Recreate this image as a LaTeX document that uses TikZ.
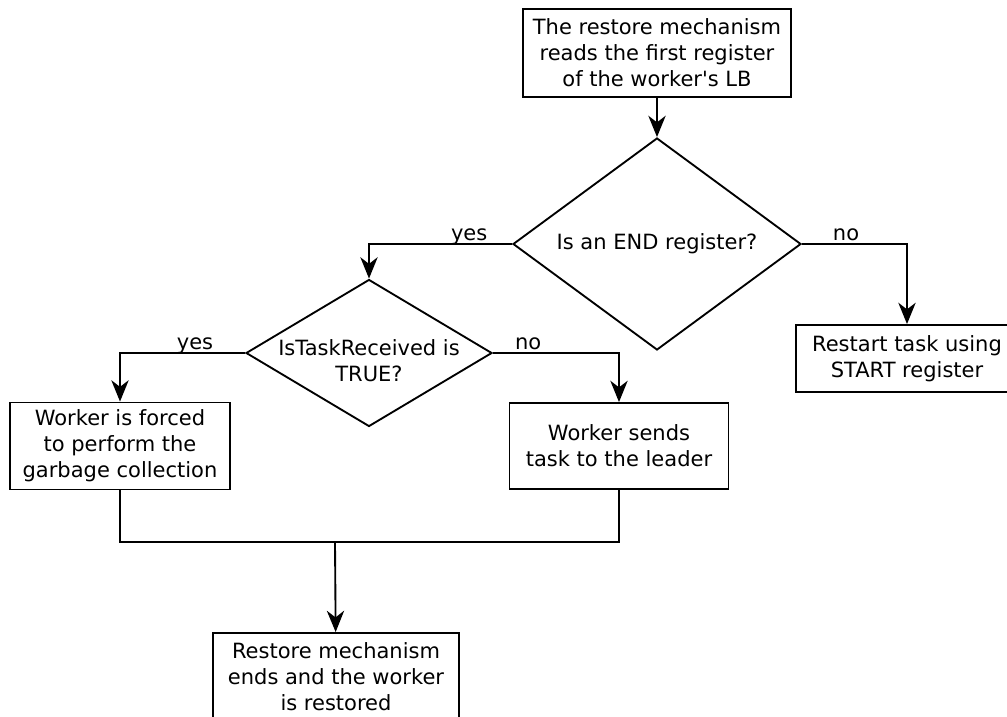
\documentclass[tikz,border=0pt]{standalone}
\usepackage{fontspec}
\setmainfont{DejaVu Sans}
\usetikzlibrary{shapes.geometric,arrows.meta}

\tikzset{every picture/.style={line width=1.4pt},
	procbox/.style={draw, rectangle, inner sep=0pt, align=center},
	decision/.style={draw, diamond, inner xsep=-16pt, inner ysep=-6pt, align=center},
	flow/.style={-{Stealth[length=16pt,width=13pt,inset=5pt]}},
	branch/.style={above, text depth=0pt, inner sep=2pt}
}

\begin{document}
\begin{tikzpicture}[x=0.75pt,y=0.75pt,yscale=-1,xscale=1,font=\fontsize{15.75}{19.5}\selectfont]
	\useasboundingbox (0,0) rectangle (1007,717);
	
	%Shape: Rectangle [id:start] 
	\node [procbox, minimum width=201pt, minimum height=66pt] (start) at (657,53) {The restore mechanism\\reads the first register\\of the worker\textquotesingle s LB};
	%Shape: Diamond [id:endreg] 
	\node [decision, aspect=1.36, minimum width=216pt, minimum height=159pt] (endreg) at (657,244) {Is an END register?};
	%Shape: Diamond [id:received] 
	\node [decision, aspect=1.67, minimum width=184.5pt, minimum height=110.25pt] (received) at (369,353) {\rule{0pt}{23pt}IsTaskReceived is\\TRUE?};
	%Shape: Rectangle [id:restart] 
	\node [procbox, minimum width=166.5pt, minimum height=50.25pt] (restart) at (907,358.5) {Restart task using\\START register};
	%Shape: Rectangle [id:forced] 
	\node [procbox, minimum width=165pt, minimum height=65.25pt] (forced) at (120,446) {Worker is forced\\to perform the\\garbage collection};
	%Shape: Rectangle [id:sends] 
	\node [procbox, minimum width=164.25pt, minimum height=64.5pt] (sends) at (619,446) {Worker sends\\task to the leader};
	%Shape: Rectangle [id:restored] 
	\node [procbox, minimum width=184.5pt, minimum height=66pt] (restored) at (336,677) {Restore mechanism\\ends and the worker\\is restored};
	\coordinate (merge) at (335,542);
	
	%Straight Lines 
	\draw [flow] (start) -- (endreg);
	\draw [flow] (endreg.west) -| node [branch, pos=0.15] (yesend) {yes} (received.north);
	\draw [flow] (endreg.east) -| node [branch, pos=0.21] (noend) {no} (restart.north);
	\draw [flow] (received.west) -| node [branch, pos=0.2] (yesrec) {yes} (forced.north);
	\draw [flow] (received.east) -| node [branch, pos=0.14] (norec) {no} (sends.north);
	%Merge Lines 
	\draw (forced.south) |- (merge) -| (sends.south);
	\draw [flow] (merge) -- (restored);
	
\end{tikzpicture}
\end{document}
